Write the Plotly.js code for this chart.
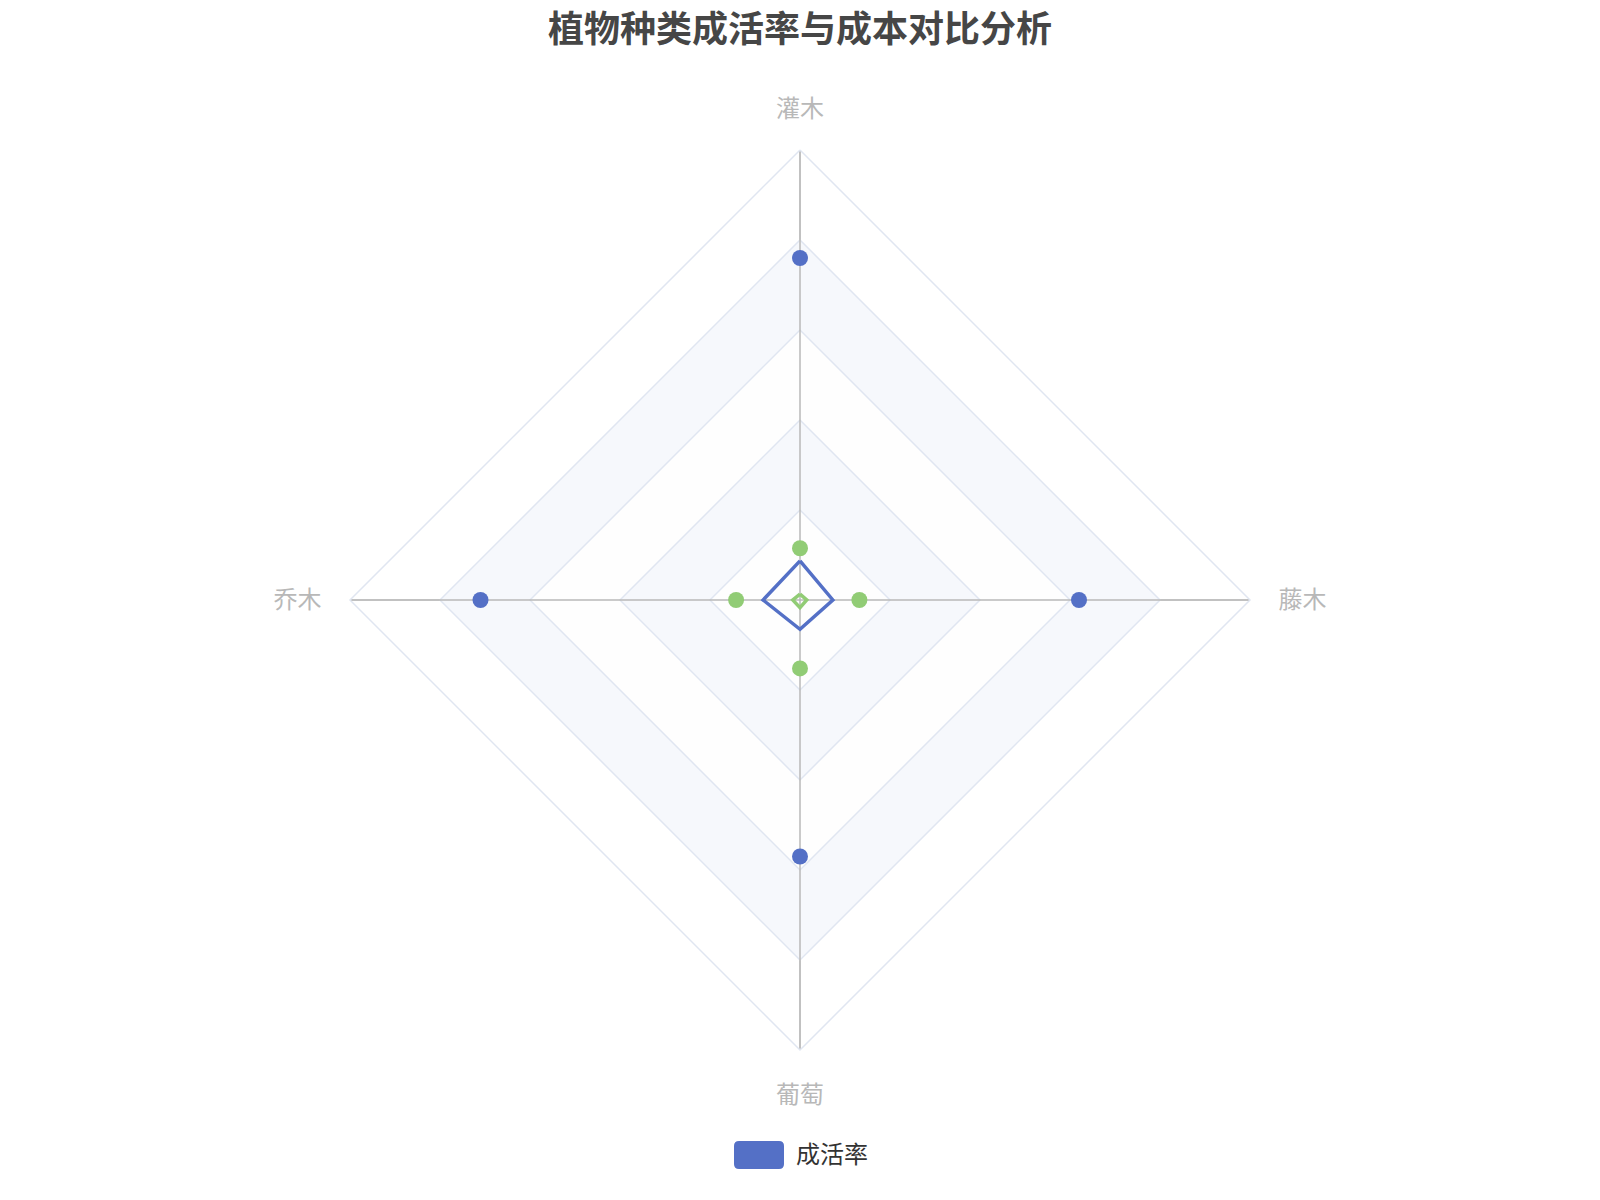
<!DOCTYPE html>
<html>
<head>
<meta charset="utf-8">
<script src="https://cdn.plot.ly/plotly-3.0.1.min.js"></script>
<style>
  html, body { margin: 0; padding: 0; background: #fff; }
  #chart { width: 1600px; height: 1200px; }
</style>
</head>
<body>
<div id="chart"></div>
<script>
// indicators, counterclockwise from the top (echarts radar order)
const indicators = ['灌木', '乔木', '葡萄', '藤木'];
const seriesNames = ['成活率', '成本'];

// symbol positions (final values, max = 100)
const survivalRate = [76, 71, 57, 62];
const cost = [11.5, 14.2, 15.2, 13.2];

// the polygons as they are drawn in the picture (caught mid-animation)
const survivalLine = [8.7, 8.2, 6.5, 7.3];
const costLine = [1.3, 1.6, 1.7, 1.5];

// split rings and alternating bands
const ringLevels = [20, 40, 60, 80, 100];
const bandLevels = [80, 60, 40, 20];
const bandColors = ['#f6f8fc', '#fefefe', '#f6f8fc', '#fefefe'];

const colors = ['#5470c6', '#91cc75'];
const ringColor = '#e0e6f1';
const spokeColor = '#b8b8b8';
const fontFamily = '"Noto Sans CJK SC", "Noto Sans", sans-serif';

const closed = arr => [...arr, arr[0]];

function bandTraces() {
    return bandLevels.map((lvl, i) => ({
        type: 'scatterpolar',
        r: indicators.map(() => lvl).concat(lvl),
        theta: closed(indicators),
        mode: 'lines',
        fill: 'toself',
        fillcolor: bandColors[i],
        line: { color: ringColor, width: 1.5 },
        hoverinfo: 'skip',
        showlegend: false
    }));
}

function spokeTraces() {
    return indicators.map(cat => ({
        type: 'scatterpolar',
        r: [0, ringLevels[ringLevels.length - 1]],
        theta: [cat, cat],
        mode: 'lines',
        line: { color: spokeColor, width: 1.5 },
        hoverinfo: 'skip',
        showlegend: false
    }));
}

function seriesTraces() {
    const lines = [survivalLine, costLine];
    const points = [survivalRate, cost];
    const out = [];
    lines.forEach((vals, i) => {
        out.push({
            type: 'scatterpolar',
            r: closed(vals),
            theta: closed(indicators),
            mode: 'lines',
            line: { color: colors[i], width: 3.5 },
            name: seriesNames[i],
            showlegend: false
        });
    });
    points.forEach((vals, i) => {
        out.push({
            type: 'scatterpolar',
            r: vals,
            theta: indicators,
            mode: 'markers',
            marker: { color: colors[i], size: 16 },
            name: seriesNames[i],
            showlegend: false
        });
    });
    return out;
}

// legend drawn as echarts does: rounded swatch + label
function roundRect(x0, y0, x1, y1, rad) {
    const W = 1600, H = 1200;
    const rx = rad / W, ry = rad / H;
    const X0 = x0 / W, X1 = x1 / W, Y0 = 1 - y0 / H, Y1 = 1 - y1 / H;
    return `M ${X0 + rx} ${Y0} L ${X1 - rx} ${Y0} Q ${X1} ${Y0} ${X1} ${Y0 - ry} ` +
        `L ${X1} ${Y1 + ry} Q ${X1} ${Y1} ${X1 - rx} ${Y1} L ${X0 + rx} ${Y1} ` +
        `Q ${X0} ${Y1} ${X0} ${Y1 + ry} L ${X0} ${Y0 - ry} Q ${X0} ${Y0} ${X0 + rx} ${Y0} Z`;
}

const layout = {
    width: 1600,
    height: 1200,
    margin: { t: 0, r: 0, b: 0, l: 0 },
    paper_bgcolor: '#fff',
    font: { family: fontFamily },
    title: {
        text: '植物种类成活率与成本对比分析',
        font: { size: 36, color: '#464646', family: fontFamily, weight: 'bold' },
        x: 0.5, xanchor: 'center',
        y: 1 - 29 / 1200, yref: 'container', yanchor: 'middle'
    },
    showlegend: false,
    polar: {
        domain: { x: [350 / 1600, 1250 / 1600], y: [150 / 1200, 1050 / 1200] },
        gridshape: 'linear',
        bgcolor: 'rgba(0,0,0,0)',
        radialaxis: {
            range: [0, 100],
            tickvals: ringLevels,
            showticklabels: false,
            ticks: '',
            showline: false,
            gridcolor: ringColor
        },
        angularaxis: {
            type: 'category',
            categoryarray: indicators,
            direction: 'counterclockwise',
            rotation: 90,
            gridcolor: spokeColor,
            linecolor: ringColor,
            linewidth: 1.5,
            ticks: 'outside',
            ticklen: 23,
            tickcolor: 'rgba(0,0,0,0)',
            tickfont: { size: 24, color: '#b8b8b8', family: fontFamily }
        }
    },
    shapes: [{
        type: 'path',
        xref: 'paper', yref: 'paper',
        path: roundRect(734, 1141, 784, 1169, 5),
        fillcolor: colors[0],
        line: { width: 0 }
    }],
    annotations: [{
        text: seriesNames[0],
        xref: 'paper', yref: 'paper',
        x: 794 / 1600, y: 1 - 1152 / 1200,
        xanchor: 'left', yanchor: 'middle',
        showarrow: false,
        font: { size: 24, color: '#333', family: fontFamily }
    }]
};

Plotly.newPlot('chart', [...bandTraces(), ...spokeTraces(), ...seriesTraces()], layout,
    { displayModeBar: false, staticPlot: true });
</script>
</body>
</html>
